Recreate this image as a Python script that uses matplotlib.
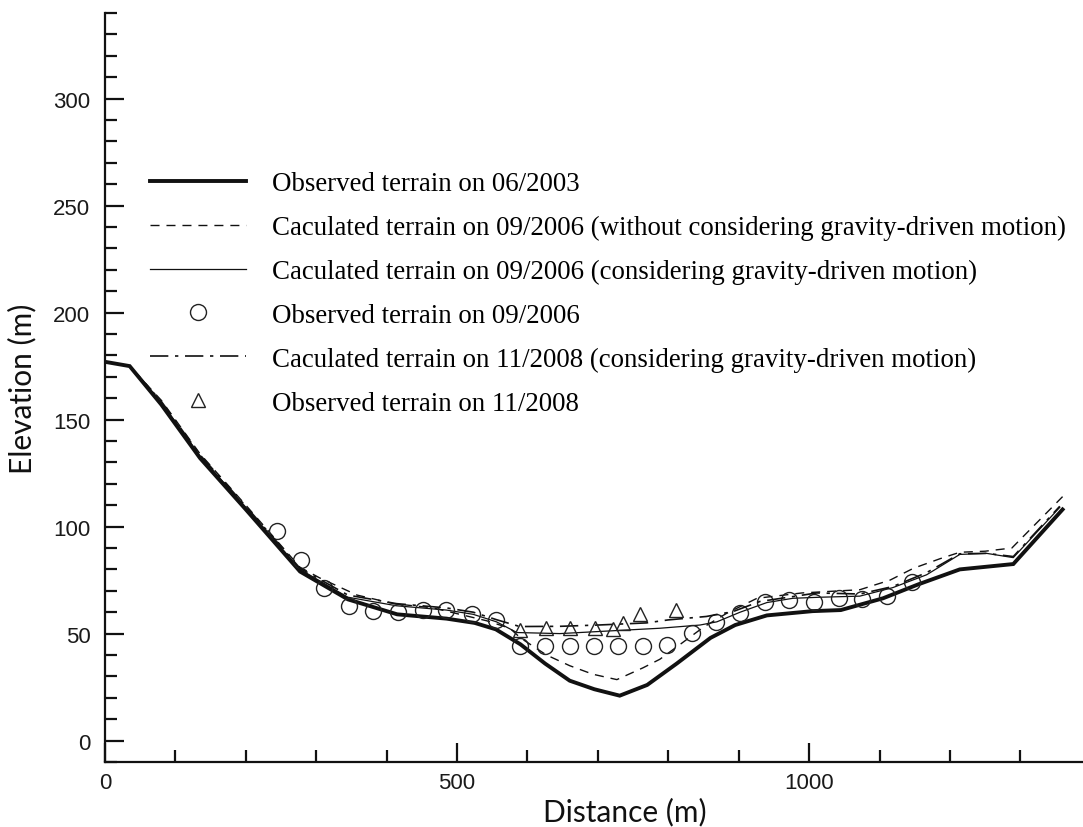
import numpy as np
import matplotlib
matplotlib.use("Agg")
import matplotlib.pyplot as plt
from matplotlib.ticker import MultipleLocator

# observed terrain 06/2003 (thick line)
obs03_x = [0, 35, 80, 135, 200, 277, 345, 415, 485, 525, 555, 590, 625, 660, 695, 731,
           770, 812, 860, 895, 940, 1005, 1045, 1105, 1155, 1214, 1290, 1360]
obs03_y = [177, 175, 157, 132, 108, 79, 66, 59, 57, 55, 52, 45, 36, 28, 24, 21,
           26, 36, 48, 54, 58.5, 60.5, 61, 66.5, 73, 80, 82.5, 108]

# calculated 09/2006 without gravity-driven motion (dashed)
calc06a_x = [0, 35, 80, 135, 200, 277, 305, 358, 410, 466, 542, 575, 590, 627, 660, 693,
             727, 764, 788, 817, 850, 883, 926, 990, 1072, 1115, 1148, 1186, 1214, 1250,
             1288, 1360]
calc06a_y = [177, 175, 159, 134, 110, 81, 76, 68, 64, 62, 56, 52.5, 48, 40, 35, 31,
             28.5, 34, 38, 45, 53, 59.5, 66.5, 69, 70.5, 75, 80.5, 85, 88, 88.5,
             90, 114]

# calculated 09/2006 with gravity-driven motion (thin solid)
calc06b_x = [0, 35, 80, 135, 200, 277, 345, 414, 485, 523, 556, 585, 646, 731, 788, 845,
             869, 902, 940, 977, 1016, 1072, 1119, 1167, 1214, 1252, 1290, 1356]
calc06b_y = [177, 175, 158, 133, 109, 80, 67, 63, 61, 59, 55.5, 50.5, 50, 51.5, 52.5, 54,
             55.5, 60, 64.5, 66.5, 67, 67.5, 71.5, 77.5, 87, 87.5, 85.5, 109]

# observed 09/2006 (circles)
obs06_x = [244, 278, 311, 347, 381, 416, 451, 485, 521, 555, 589, 625, 660, 695, 729,
           764, 798, 833, 868, 902, 937, 972, 1007, 1042, 1075, 1111, 1146]
obs06_y = [98, 84.5, 71.5, 63, 60.5, 60.3, 61, 60.8, 59, 56.4, 44.4, 44, 44.2, 44.2, 44,
           44, 44.7, 50.2, 55.6, 59.5, 65, 65.8, 65, 66.6, 66.2, 67.8, 73.9]

# calculated 11/2008 with gravity-driven motion (dash-dot)
calc08_x = [0, 35, 80, 135, 200, 277, 345, 414, 485, 523, 556, 589, 646, 700, 769, 800,
            854, 892, 930, 977, 1011, 1072, 1119, 1167, 1214, 1252, 1290, 1356]
calc08_y = [177, 175, 158.5, 133.5, 109.5, 80.5, 68, 64, 62, 60, 56.5, 53.3, 53.4, 54, 55,
            56.4, 58, 60.3, 65, 67.3, 69, 68.5, 72, 78.5, 87.3, 87.5, 86, 109.5]

# observed 11/2008 (triangles)
obs08_x = [590, 627, 661, 696, 721, 736, 760, 811]
obs08_y = [51.7, 52.5, 52.5, 52.5, 52, 55, 59, 61]

labels = ["Observed terrain on 06/2003",
          "Caculated terrain on 09/2006 (without considering gravity-driven motion)",
          "Caculated terrain on 09/2006 (considering gravity-driven motion)",
          "Observed terrain on 09/2006",
          "Caculated terrain on 11/2008 (considering gravity-driven motion)",
          "Observed terrain on 11/2008"]

W, H = 1083, 828
fig = plt.figure(figsize=(W / 100, H / 100), dpi=100)
ax = fig.add_axes([105 / W, 65 / H, 978 / W, 749 / H])

k = "#111111"
l1, = ax.plot(obs03_x, obs03_y, color=k, lw=2.8, solid_joinstyle="miter")
l2, = ax.plot(calc06a_x, calc06a_y, color=k, lw=1.0, dashes=(6.5, 5))
l3, = ax.plot(calc06b_x, calc06b_y, color=k, lw=0.9)
l4, = ax.plot(obs06_x, obs06_y, ls="none", marker="o", ms=11.5, mfc="none", mec="#222222", mew=1.0)
l5, = ax.plot(calc08_x, calc08_y, color=k, lw=1.2, dashes=(11, 4, 2, 4))
l6, = ax.plot(obs08_x, obs08_y, ls="none", marker="^", ms=10, mfc="none", mec="#222222", mew=1.0)

ax.set_xlim(0, 1389)
ax.set_ylim(-10, 340)

ax.spines["top"].set_visible(False)
ax.spines["right"].set_visible(False)
for s in ["left", "bottom"]:
    ax.spines[s].set_linewidth(1.6)
    ax.spines[s].set_color(k)

ax.set_xticks([0, 500, 1000])
ax.set_yticks([0, 50, 100, 150, 200, 250, 300])
ax.xaxis.set_minor_locator(MultipleLocator(100))
ax.yaxis.set_minor_locator(MultipleLocator(10))
ax.tick_params(which="both", direction="in", width=1.6, color=k)
ax.tick_params(which="major", length=14)
ax.tick_params(which="minor", length=8.5)
ax.tick_params(axis="y", which="major", pad=10.5)
ax.tick_params(axis="x", which="major", pad=7)
for t in ax.get_xticklabels() + ax.get_yticklabels():
    t.set_fontfamily("Liberation Sans")
    t.set_fontsize(16)
    t.set_color("#1a1a1a")

ax.set_xlabel("Distance (m)", family="Lato", fontsize=21.5, color=k)
ax.set_ylabel("Elevation (m)", family="Lato", fontsize=21.5, color=k)
ax.xaxis.set_label_coords(0.532, -0.047)
ax.yaxis.set_label_coords(-0.07, 0.5)

leg = ax.legend([l1, l2, l3, l4, l5, l6], labels, loc="upper left",
                bbox_to_anchor=(150 / W, 1 - 172 / H), bbox_transform=fig.transFigure,
                frameon=False, prop={"family": "Liberation Serif", "size": 19.4},
                handlelength=3.55, handletextpad=0.96, labelspacing=0.7,
                borderpad=0, borderaxespad=0, numpoints=1)

fig.savefig("out.png", dpi=100)
